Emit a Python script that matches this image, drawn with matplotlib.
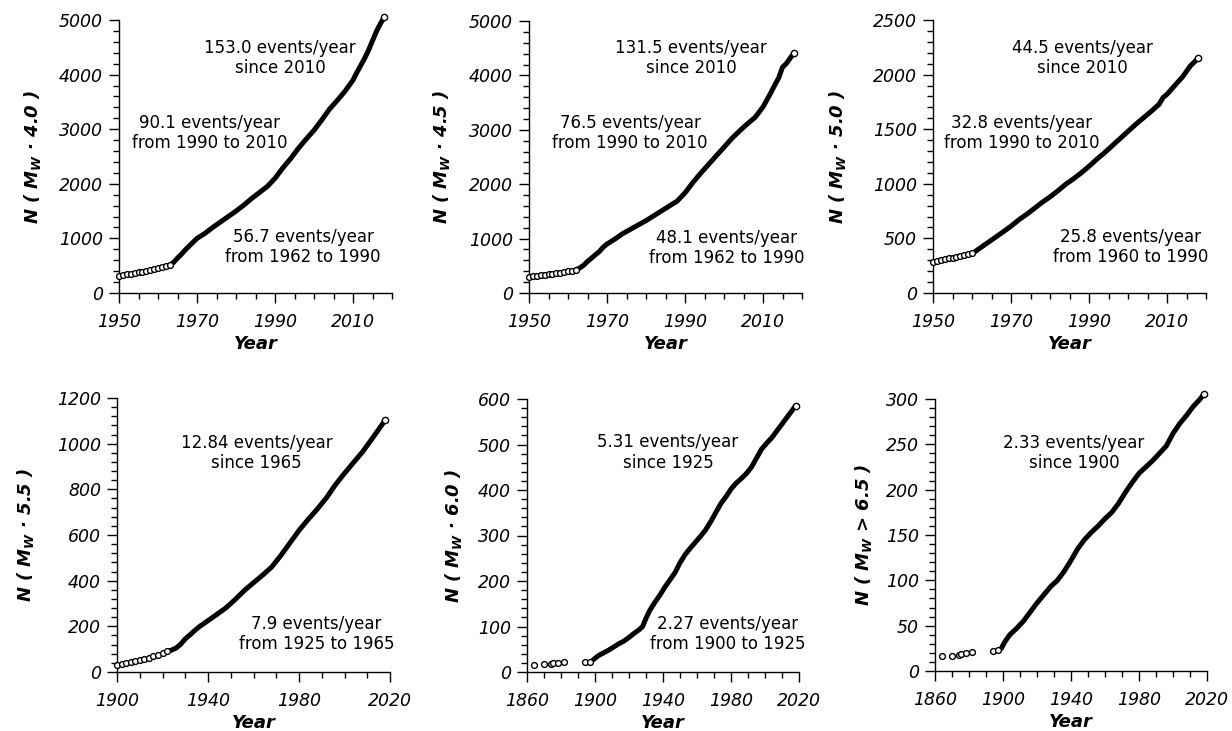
import numpy as np
import matplotlib.pyplot as plt

plt.rcParams.update({
    "font.family": "DejaVu Sans",
    "mathtext.fontset": "custom",
    "mathtext.it": "DejaVu Sans:bold:italic",
    "mathtext.rm": "DejaVu Sans:bold",
    "mathtext.bf": "DejaVu Sans:bold",
})

# ---- data (cumulative counts) ----
# Mw >= 4.0
yr40_early = [1950, 1951, 1952, 1953, 1954, 1955, 1956, 1957, 1958, 1959, 1960, 1961, 1962, 1963]
n40_early = [320, 330, 342, 353, 365, 378, 392, 405, 418, 432, 450, 468, 488, 510]
yr40 = [1963, 1964, 1965, 1966, 1967, 1968, 1969, 1970, 1972, 1974, 1976, 1978, 1980, 1982, 1984,
        1986, 1988, 1990, 1992, 1994, 1996, 1998, 2000, 2002, 2004, 2006, 2008, 2010, 2011, 2012,
        2013, 2014, 2015, 2016, 2017, 2018]
n40 = [510, 560, 640, 710, 790, 860, 930, 1000, 1090, 1200, 1300, 1400, 1500, 1610, 1730,
       1840, 1950, 2100, 2290, 2460, 2650, 2820, 2980, 3170, 3370, 3530, 3700, 3900, 4040, 4170,
       4300, 4450, 4620, 4790, 4930, 5050]

# Mw >= 4.5
yr45_early = [1950, 1951, 1952, 1953, 1954, 1955, 1956, 1957, 1958, 1959, 1960, 1961, 1962]
n45_early = [300, 308, 316, 324, 333, 342, 352, 362, 372, 383, 396, 410, 428]
yr45 = [1962, 1963, 1964, 1965, 1966, 1967, 1968, 1969, 1970, 1972, 1974, 1976, 1978, 1980, 1982,
        1984, 1986, 1988, 1990, 1992, 1994, 1996, 1998, 2000, 2002, 2004, 2006, 2008, 2010, 2012,
        2013, 2014, 2015, 2016, 2017, 2018]
n45 = [428, 460, 510, 580, 640, 700, 760, 840, 900, 990, 1090, 1170, 1250, 1330, 1420,
       1510, 1600, 1690, 1840, 2030, 2200, 2360, 2520, 2680, 2840, 2980, 3110, 3230, 3420, 3680,
       3820, 3950, 4150, 4220, 4320, 4420]

# Mw >= 5.0
yr50_early = [1950, 1951, 1952, 1953, 1954, 1955, 1956, 1957, 1958, 1959, 1960]
n50_early = [285, 292, 300, 308, 316, 325, 333, 341, 350, 358, 368]
yr50 = [1960, 1961, 1962, 1964, 1966, 1968, 1970, 1972, 1974, 1976, 1978, 1980, 1982, 1984, 1986,
        1988, 1990, 1992, 1994, 1996, 1998, 2000, 2002, 2004, 2006, 2008, 2009, 2010, 2012, 2014,
        2016, 2018]
n50 = [355, 385, 410, 460, 510, 560, 612, 670, 720, 775, 830, 880, 935, 995, 1045,
       1100, 1160, 1225, 1285, 1350, 1415, 1480, 1545, 1605, 1665, 1730, 1790, 1820, 1900, 1980,
       2080, 2150]

# Mw >= 5.5
yr55_early = [1900, 1902, 1904, 1906, 1908, 1910, 1912, 1914, 1916, 1918, 1920, 1922]
n55_early = [30, 37, 41, 44, 48, 53, 58, 62, 68, 74, 82, 90]
yr55 = [1922, 1924, 1926, 1928, 1930, 1932, 1934, 1936, 1940, 1944, 1948, 1952, 1956, 1960, 1964,
        1968, 1972, 1976, 1980, 1984, 1988, 1992, 1996, 2000, 2004, 2008, 2012, 2015, 2018]
n55 = [90, 96, 105, 122, 145, 162, 180, 197, 225, 253, 282, 318, 357, 391, 424,
       460, 510, 565, 620, 668, 713, 762, 820, 870, 918, 965, 1020, 1062, 1105]

# Mw >= 6.0
yr60_early = [1864, 1870, 1874, 1875, 1878, 1882, 1894, 1897]
n60_early = [16, 17, 18, 19, 20, 21, 22, 23]
yr60 = [1899, 1902, 1905, 1908, 1911, 1914, 1917, 1920, 1923, 1926, 1928, 1930, 1932, 1935, 1938,
        1941, 1944, 1947, 1950, 1953, 1956, 1959, 1962, 1965, 1968, 1971, 1974, 1977, 1980, 1983,
        1986, 1989, 1992, 1995, 1998, 2001, 2004, 2007, 2010, 2013, 2016, 2018]
n60 = [27, 36, 42, 48, 55, 62, 68, 76, 85, 93, 100, 118, 134, 152, 168,
       186, 202, 218, 240, 258, 272, 285, 298, 312, 330, 350, 370, 385, 402, 415,
       425, 436, 450, 470, 490, 503, 515, 530, 545, 560, 575, 585]

# Mw > 6.5
yr65_early = [1864, 1870, 1874, 1875, 1878, 1882, 1894, 1897]
n65_early = [16, 17, 18, 19, 20, 21, 22, 23]
yr65 = [1899, 1901, 1904, 1908, 1912, 1916, 1920, 1924, 1928, 1932, 1936, 1940, 1944, 1948, 1952,
        1956, 1960, 1964, 1968, 1972, 1976, 1980, 1984, 1988, 1992, 1996, 2000, 2004, 2008, 2012,
        2016, 2018]
n65 = [25, 32, 40, 47, 55, 65, 75, 84, 93, 100, 110, 122, 135, 145, 153,
       160, 168, 175, 185, 197, 208, 218, 225, 232, 240, 248, 262, 273, 282, 292,
       300, 305]

xticks_a = [1950, 1970, 1990, 2010]
xticks_b = [1900, 1940, 1980, 2020]
xticks_c = [1860, 1900, 1940, 1980, 2020]

ylabels = [r"N ( $M_W$ · 4.0 )", r"N ( $M_W$ · 4.5 )", r"N ( $M_W$ · 5.0 )",
           r"N ( $M_W$ · 5.5 )", r"N ( $M_W$ · 6.0 )", r"N ( $M_W$ > 6.5 )"]

notes = [
    [("153.0 events/year\nsince 2010", 0.59, 0.862),
     ("90.1 events/year\nfrom 1990 to 2010", 0.333, 0.586),
     ("56.7 events/year\nfrom 1962 to 1990", 0.674, 0.167)],
    [("131.5 events/year\nsince 2010", 0.594, 0.864),
     ("76.5 events/year\nfrom 1990 to 2010", 0.37, 0.588),
     ("48.1 events/year\nfrom 1962 to 1990", 0.725, 0.167)],
    [("44.5 events/year\nsince 2010", 0.548, 0.862),
     ("32.8 events/year\nfrom 1990 to 2010", 0.326, 0.586),
     ("25.8 events/year\nfrom 1960 to 1990", 0.725, 0.168)],
    [("12.84 events/year\nsince 1965", 0.512, 0.80),
     ("7.9 events/year\nfrom 1925 to 1965", 0.73, 0.139)],
    [("5.31 events/year\nsince 1925", 0.518, 0.804),
     ("2.27 events/year\nfrom 1900 to 1925", 0.739, 0.139)],
    [("2.33 events/year\nsince 1900", 0.511, 0.803)],
]

fig = plt.figure(figsize=(12.32, 7.31), dpi=100)


def rect(left, right, top, bottom):
    return [left / 1232, 1 - bottom / 731, (right - left) / 1232, (bottom - top) / 731]


panels = [
    (rect(119, 392, 20, 293), yr40_early, n40_early, yr40, n40, (1950, 2020), xticks_a, 5, 5000, 1000, 200, -0.278),
    (rect(529, 802, 21, 293), yr45_early, n45_early, yr45, n45, (1950, 2020), xticks_a, 5, 5000, 1000, 200, -0.282),
    (rect(933, 1206, 20, 293), yr50_early, n50_early, yr50, n50, (1950, 2020), xticks_a, 5, 2500, 500, 100, -0.311),
    (rect(117, 390, 398, 672), yr55_early, n55_early, yr55, n55, (1900, 2020), xticks_b, 10, 1200, 200, 40, -0.296),
    (rect(527, 799, 399, 672), yr60_early, n60_early, yr60, n60, (1860, 2020), xticks_c, 10, 600, 100, 20, -0.231),
    (rect(935, 1207, 399, 671), yr65_early, n65_early, yr65, n65, (1860, 2020), xticks_c, 10, 300, 50, 10, -0.224),
]

for i, (r, xe, ye, xm, ym, xlim, xt, xminor, ymax, ystep, yminor, ylx) in enumerate(panels):
    ax = fig.add_axes(r)
    ax.plot(xm, ym, color="black", lw=3.6, solid_capstyle="round",
            solid_joinstyle="round", clip_on=False, zorder=3)
    ax.plot(xm[-1:], ym[-1:], "o", ms=4.5, mfc="white", mec="black", mew=1.0,
            clip_on=False, zorder=4)
    ax.plot(xe, ye, "o", ms=4.2, mfc="white", mec="black", mew=1.0,
            clip_on=False, zorder=4)

    ax.set_xlim(xlim)
    ax.set_ylim(0, ymax)
    for s in ["top", "right"]:
        ax.spines[s].set_visible(False)
    for s in ["left", "bottom"]:
        ax.spines[s].set_linewidth(1.0)

    ax.set_xticks(xt)
    ax.set_xticklabels([str(v) for v in xt], fontstyle="italic", fontsize=12.5)
    ax.set_xticks(np.arange(xlim[0], xlim[1] + 1, xminor), minor=True)
    yt = np.arange(0, ymax + 1, ystep)
    ax.set_yticks(yt)
    ax.set_yticklabels([str(v) for v in yt], fontstyle="italic", fontsize=12.5)
    ax.set_yticks(np.arange(0, ymax + 1, yminor), minor=True)

    ax.tick_params(which="major", direction="out", length=7.5, width=1.0)
    ax.tick_params(which="minor", direction="out", length=4.5, width=1.0)
    ax.tick_params(axis="x", which="major", pad=7)
    ax.tick_params(axis="y", which="major", pad=4)

    ax.set_xlabel("Year", fontsize=13, fontweight="bold", fontstyle="italic")
    ax.xaxis.set_label_coords(0.5, -0.155)
    ax.set_ylabel(ylabels[i], fontsize=13, fontweight="bold", fontstyle="italic")
    ax.yaxis.set_label_coords(ylx, 0.5)

    for txt, tx, ty in notes[i]:
        ax.text(tx, ty, txt, transform=ax.transAxes, ha="center", va="center",
                fontsize=12, linespacing=1.15)

fig.savefig("out.png", dpi=100)
